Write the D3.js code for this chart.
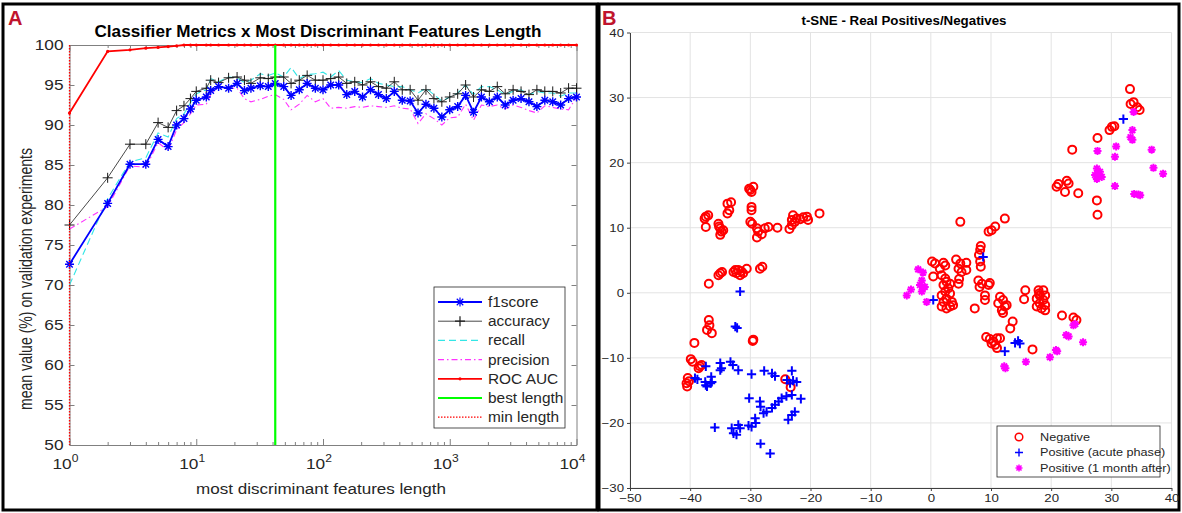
<!DOCTYPE html>
<html><head><meta charset="utf-8">
<script src="https://cdn.jsdelivr.net/npm/d3@7"></script>
<style>
body{margin:0;background:#fff;}
svg text{font-family:"Liberation Sans",Arial,sans-serif;fill:#262626;}
</style></head><body>
<svg id="fig" width="1182" height="513"></svg>
<script>
// ---- panel A data: mean metric value (%) per feature-list length ----
var featureLengths = [1,2,3,4,5,6,7,8,9,10,12,13,15,18,21,24,27,32,37,42,49,56,65,75,87,100,115,133,154,178,205,237,274,316,365,422,487,562,649,750,866,1000,1155,1334,1540,1778,2054,2371,2738,3162,3652,4217,4870,5623,6494,7499,8660,10000];
var f1score   = [72.6,80.2,85.1,85.1,88.2,87.3,90.0,90.8,92.0,93.1,93.5,94.3,94.8,94.6,95.2,94.3,94.6,94.9,94.8,95.2,94.8,93.7,94.4,95.2,94.6,94.4,95.0,95.0,93.8,94.2,93.5,94.4,93.8,93.3,94.2,93.1,93.0,91.5,92.6,92.1,91.0,91.9,92.3,93.7,91.6,93.5,92.9,93.5,92.5,93.1,93.3,92.9,92.3,93.1,92.9,92.5,93.3,93.5];
var accuracy  = [77.5,83.4,87.6,87.6,90.3,89.7,91.8,92.4,93.3,94.2,94.6,95.6,95.3,95.9,96.0,95.6,95.2,95.9,95.8,96.0,96.0,95.2,95.6,96.2,95.6,95.6,95.8,96.0,95.2,95.4,95.0,95.4,94.8,94.6,95.4,94.4,94.4,93.1,94.4,93.3,92.9,93.5,93.9,95.0,93.5,94.4,94.2,94.8,93.9,94.4,94.2,93.8,94.4,94.2,94.2,94.0,94.6,94.6];
var recall    = [70.0,80.8,85.4,85.9,89.0,88.5,90.8,91.4,92.8,93.9,94.4,95.8,95.4,96.0,95.9,95.3,95.6,96.4,96.2,96.5,96.0,97.2,95.8,96.3,96.4,96.6,96.0,96.8,95.6,95.4,95.3,95.8,95.2,95.0,94.8,94.8,94.4,94.0,94.6,93.8,93.0,93.5,94.0,95.0,93.8,94.8,94.8,94.4,93.8,94.2,94.4,93.8,94.2,94.0,94.0,93.6,94.0,94.0];
var precision = [77.0,79.8,84.9,84.7,87.8,86.8,89.4,90.3,91.4,92.5,92.6,93.8,94.8,94.6,94.6,93.3,92.9,93.2,93.6,93.8,93.2,91.9,92.6,93.7,92.9,93.3,92.1,92.2,92.1,92.3,92.2,92.4,92.3,92.2,92.4,92.1,92.0,90.2,91.4,90.8,90.0,90.9,91.0,92.6,90.6,92.5,92.3,92.5,92.0,92.5,92.2,91.8,91.5,92.4,92.2,92.0,91.9,93.5];
var rocAuc    = [91.5,99.2,99.4,99.6,99.7,99.8,99.9,100,100,100,100,100,100,100,100,100,100,100,100,100,100,100,100,100,100,100,100,100,100,100,100,100,100,100,100,100,100,100,100,100,100,100,100,100,100,100,100,100,100,100,100,100,100,100,100,100,100,100];
var bestLength = 42;
var minLength = 1;
var yTicksA = [50,55,60,65,70,75,80,85,90,95,100];
var decadesA = [1,10,100,1000,10000];

// ---- panel B data: t-SNE coordinates [x, y] ----
var negative = [
  [-30.0,15.8],[-29.5,16.3],[-29.8,15.5],[-30.2,16.0],
  [-33.8,13.7],[-33.5,12.7],[-33.8,12.2],[-33.2,13.9],
  [-37.4,11.7],[-37.4,10.1],[-37.6,11.4],[-37.0,11.9],
  [-35.3,10.6],[-35.0,9.9],[-34.8,9.4],[-35.0,8.9],[-34.5,9.6],[-35.2,10.2],
  [-29.8,13.2],[-29.8,12.7],[-30.0,10.9],[-29.7,10.6],
  [-28.9,9.9],[-28.7,9.4],[-28.9,8.5],[-28.1,9.0],
  [-27.0,10.1],[-27.6,9.9],[-25.5,10.0],[-23.5,9.8],[-23.1,10.4],
  [-22.9,11.9],[-22.3,11.4],[-21.7,11.3],[-21.2,11.6],[-20.4,11.2],[-20.6,11.7],[-22.6,10.9],[-23.1,11.2],
  [-18.5,12.2],
  [-36.9,1.4],[-35.3,2.7],[-35.0,3.0],[-34.7,3.2],
  [-32.5,3.5],[-32.3,3.0],[-31.7,2.7],[-32.0,3.5],[-31.2,3.0],[-30.6,3.7],[-32.8,3.2],[-31.5,3.3],
  [-28.4,3.7],[-28.0,4.0],
  [-36.9,-4.2],[-37.2,-5.7],[-36.4,-6.2],[-36.8,-5.0],
  [-39.3,-7.7],[-29.6,-7.4],[-29.5,-7.2],
  [-39.9,-10.2],[-39.6,-10.6],[-38.4,-11.3],[-38.1,-11.1],[-38.6,-11.6],
  [-40.4,-13.1],[-40.6,-13.9],[-40.5,-14.4],[-40.2,-13.6],
  [-24.2,-13.3],[-23.3,-14.5],
  [9.6,9.4],[10.1,9.6],[10.7,10.2],[12.3,11.4],[4.9,10.9],
  [8.3,7.2],[8.2,6.6],[8.0,5.8],[8.2,4.8],[8.3,4.0],
  [4.2,5.1],[4.9,4.5],[5.9,4.6],[4.6,3.7],[5.9,3.5],[5.1,3.2],
  [0.2,4.8],[0.7,4.5],[2.1,4.6],[1.5,3.7],[2.4,4.2],[0.4,2.5],
  [1.8,2.7],[2.4,2.2],[2.6,1.7],[3.2,1.4],[2.1,1.2],[2.9,0.7],[2.4,0.2],[3.2,-0.1],[1.8,-0.4],[2.6,-0.9],
  [2.1,-1.4],[3.5,-1.4],[1.8,-2.1],[3.2,-2.1],[2.6,-2.4],[3.7,-1.9],
  [4.7,2.1],[4.6,1.4],
  [7.9,1.9],[8.1,0.9],[8.5,1.4],[9.8,1.5],[9.6,1.2],[9.0,-0.4],[9.0,-1.1],[7.3,-2.4],
  [11.5,-0.6],[12.0,-1.1],[11.2,-1.6],[12.3,-2.1],[12.0,-3.1],[11.8,-2.7],[12.6,-1.9],
  [13.6,-4.4],[13.2,-5.5],[15.7,0.4],[15.5,-1.0],
  [17.9,0.4],[18.7,0.4],[18.1,-0.4],[19.0,-0.4],[17.6,-0.9],[18.7,-1.1],[18.1,-1.6],[19.0,-1.9],
  [17.6,-2.1],[18.4,-2.4],[19.0,-2.7],[18.0,-0.1],
  [21.8,-3.5],[23.7,-3.8],[24.2,-4.2],
  [9.2,-6.8],[9.8,-7.1],[10.4,-7.5],[11.0,-7.0],[11.5,-7.0],[10.7,-8.0],[11.0,-8.5],[10.1,-7.8],
  [16.9,-8.7],
  [33.1,31.3],[33.2,29.0],[33.7,29.3],[34.3,28.5],[34.7,28.1],
  [29.7,25.0],[30.1,25.5],[30.5,25.6],[27.7,23.8],[23.5,22.0],
  [21.2,16.7],[22.6,17.2],[22.3,15.5],[22.9,16.8],[24.5,15.3],[20.9,16.3],
  [27.6,14.2],[27.7,12.0]
];
var acutePhase = [
  [-31.7,0.2],[-32.5,-5.2],[-32.2,-5.4],
  [-37.4,-11.3],[-39.2,-13.1],[-38.8,-13.3],
  [-37.5,-13.7],[-37.4,-14.2],[-36.5,-12.9],[-36.4,-13.7],[-36.6,-13.9],[-37.2,-14.4],
  [-35.0,-10.8],[-34.8,-11.6],[-35.0,-11.9],[-33.3,-10.6],[-32.9,-11.1],
  [-32.0,-11.9],[-29.8,-12.5],[-27.7,-12.0],[-26.4,-12.4],[-25.9,-12.8],
  [-23.1,-12.0],[-23.9,-13.4],[-22.9,-13.5],[-22.3,-13.7],[-23.4,-13.9],
  [-30.2,-16.2],[-28.4,-16.7],[-28.3,-17.5],[-27.8,-18.5],[-27.3,-18.3],
  [-26.4,-17.7],[-25.9,-17.2],[-25.3,-16.7],[-24.8,-16.2],[-24.0,-15.9],[-23.1,-15.7],[-21.6,-16.3],
  [-22.6,-18.3],[-23.1,-18.8],[-23.7,-19.5],
  [-35.9,-20.7],[-33.1,-20.8],[-32.8,-21.6],[-32.0,-20.3],[-31.7,-20.8],[-32.3,-21.8],
  [-30.3,-20.4],[-29.8,-20.6],[-29.1,-20.0],[-29.2,-19.3],
  [-28.3,-23.2],[-26.7,-24.7],
  [8.7,5.5],[0.4,-1.1],[14.0,-7.7],[14.5,-7.4],[14.8,-7.8],[12.3,-9.0],
  [32.0,26.7]
];
var oneMonthAfter = [
  [-2.1,3.6],[-1.3,3.1],[-1.5,1.9],[-1.8,1.2],[-1.0,0.9],[-1.5,0.2],[-3.3,0.5],[-4.0,-0.4],[-0.7,-1.4],
  [12.2,-11.3],[12.4,-11.6],[15.8,-10.6],[19.8,-9.9],[20.8,-8.8],[21.0,-9.0],[22.5,-6.5],[22.9,-6.7],
  [23.7,-5.0],[24.0,-4.8],[25.3,-7.6],
  [33.7,27.8],[33.5,25.0],[33.5,23.5],[33.2,23.9],[30.8,22.5],[30.6,20.9],[27.7,21.8],[36.7,22.0],
  [27.6,19.1],[28.1,18.6],[27.3,18.1],[28.4,17.8],[27.6,17.5],[27.8,18.3],[30.6,16.4],
  [37.0,19.2],[38.6,18.3],[33.8,15.2],[34.5,15.1],[34.8,15.0]
];
var xTicksB = [-50,-40,-30,-20,-10,0,10,20,30,40];
var yTicksB = [-30,-20,-10,0,10,20,30,40];

var svg = d3.select("#fig");
var STRETCH = 1.15;

// the source figure is a bit wider than tall, so horizontal text gets stretched
function stretch(sel, k) {
  sel.each(function() {
    var w = this.getComputedTextLength();
    d3.select(this).attr("textLength", w * (k || STRETCH)).attr("lengthAdjust", "spacingAndGlyphs");
  });
}

function markerPath(type, r) {
  if (type == "+") return "M0," + (-r) + "V" + r + "M" + (-r) + ",0H" + r;
  if (type == "*") {
    var d = r * 0.72;
    return "M0," + (-r) + "V" + r + "M" + (-r) + ",0H" + r +
      "M" + (-d) + "," + (-d) + "L" + d + "," + d + "M" + (-d) + "," + d + "L" + d + "," + (-d);
  }
  return "";
}

// ---------------- frame ----------------
svg.append("rect").attr("x", 0).attr("y", 0).attr("width", 1182).attr("height", 513).attr("fill", "#fff");
var frame = svg.append("g").attr("stroke", "#000").attr("stroke-width", 3).attr("fill", "none");
frame.append("rect").attr("x", 3).attr("y", 4).attr("width", 594).attr("height", 506);
frame.append("rect").attr("x", 599).attr("y", 4).attr("width", 580).attr("height", 506);

svg.append("text").attr("x", 8).attr("y", 25).text("A")
  .style("font-size", "20px").style("font-weight", "bold").style("fill", "#c0142d");
svg.append("text").attr("x", 602).attr("y", 25).text("B")
  .style("font-size", "20px").style("font-weight", "bold").style("fill", "#c0142d");

// ---------------- panel A ----------------
var A = {left: 69.5, right: 576.5, top: 45, bottom: 445};
var xA = d3.scaleLog().domain([1, 10000]).range([A.left, A.right]);
var yA = d3.scaleLinear().domain([50, 100]).range([A.bottom, A.top]);
var gA = svg.append("g");

var minorA = [];
decadesA.slice(0, -1).forEach(function(d) { for (var m = 2; m < 10; m++) minorA.push(d * m); });

function styleAxis(g) {
  g.selectAll("path,line").attr("stroke", "#808080");
  g.selectAll("text").style("font-size", "15px").style("fill", "#262626").style("font-family", null);
}

gA.append("g").attr("transform", "translate(0," + A.bottom + ")")
  .call(d3.axisBottom(xA).tickValues(decadesA).tickSize(-6).tickSizeOuter(0).tickFormat(""))
  .call(styleAxis);
gA.append("g").attr("transform", "translate(0," + A.bottom + ")")
  .call(d3.axisBottom(xA).tickValues(minorA).tickSize(-3).tickSizeOuter(0).tickFormat(""))
  .call(styleAxis);
gA.append("g").attr("transform", "translate(0," + A.top + ")")
  .call(d3.axisTop(xA).tickValues(decadesA).tickSize(-6).tickSizeOuter(0).tickFormat(""))
  .call(styleAxis);
gA.append("g").attr("transform", "translate(0," + A.top + ")")
  .call(d3.axisTop(xA).tickValues(minorA).tickSize(-3).tickSizeOuter(0).tickFormat(""))
  .call(styleAxis);
var yAxisA = gA.append("g").attr("transform", "translate(" + A.left + ",0)")
  .call(d3.axisLeft(yA).tickValues(yTicksA).tickSize(-5).tickSizeOuter(0).tickPadding(6))
  .call(styleAxis);
stretch(yAxisA.selectAll("text"));
gA.append("g").attr("transform", "translate(" + A.right + ",0)")
  .call(d3.axisRight(yA).tickValues(yTicksA).tickSize(-5).tickSizeOuter(0).tickFormat(""))
  .call(styleAxis);

// decade labels 10^n
var decLab = gA.append("g").selectAll("text").data(decadesA).enter().append("text")
  .attr("x", function(d) { return xA(d) - 4; })
  .attr("y", 469)
  .attr("text-anchor", "middle")
  .style("font-size", "15px");
decLab.append("tspan").text("10");
decLab.append("tspan").attr("dy", -7).style("font-size", "10.5px")
  .text(function(d) { return Math.round(Math.log10(d)); });
stretch(decLab);

// series
var lineA = function(vals) {
  return d3.line().x(function(d, i) { return xA(featureLengths[i]); }).y(function(d) { return yA(d); })(vals);
};
gA.append("path").attr("d", lineA(precision)).attr("fill", "none")
  .attr("stroke", "#ff33ff").attr("stroke-width", 1.1).attr("stroke-dasharray", "6,3,1.5,3");
gA.append("path").attr("d", lineA(recall)).attr("fill", "none")
  .attr("stroke", "#33e6e6").attr("stroke-width", 1.1).attr("stroke-dasharray", "7,4");
gA.append("path").attr("d", lineA(accuracy)).attr("fill", "none")
  .attr("stroke", "#1a1a1a").attr("stroke-width", 0.8);
gA.append("g").selectAll("path").data(accuracy).enter().append("path")
  .attr("transform", function(d, i) { return "translate(" + xA(featureLengths[i]) + "," + yA(d) + ")"; })
  .attr("d", markerPath("+", 5)).attr("stroke", "#1a1a1a").attr("stroke-width", 1);
gA.append("path").attr("d", lineA(f1score)).attr("fill", "none")
  .attr("stroke", "#0000ff").attr("stroke-width", 1.8);
gA.append("g").selectAll("path").data(f1score).enter().append("path")
  .attr("transform", function(d, i) { return "translate(" + xA(featureLengths[i]) + "," + yA(d) + ")"; })
  .attr("d", markerPath("*", 4.5)).attr("stroke", "#0000ff").attr("stroke-width", 1.4);
gA.append("path").attr("d", lineA(rocAuc)).attr("fill", "none")
  .attr("stroke", "#ff0000").attr("stroke-width", 1.8);
gA.append("g").selectAll("circle").data(rocAuc).enter().append("circle")
  .attr("cx", function(d, i) { return xA(featureLengths[i]); }).attr("cy", function(d) { return yA(d); })
  .attr("r", 1.6).attr("fill", "#ff0000");
gA.append("line").attr("x1", xA(bestLength)).attr("x2", xA(bestLength)).attr("y1", A.top).attr("y2", A.bottom)
  .attr("stroke", "#00ff00").attr("stroke-width", 2.2);
gA.append("line").attr("x1", xA(minLength)).attr("x2", xA(minLength)).attr("y1", A.top).attr("y2", A.bottom)
  .attr("stroke", "#ff0000").attr("stroke-width", 1.3).attr("stroke-dasharray", "1.5,1.5");

// titles and labels
gA.append("text").attr("x", 318).attr("y", 37).attr("text-anchor", "middle")
  .style("font-size", "16px").style("font-weight", "bold").style("fill", "#000")
  .attr("textLength", 447).attr("lengthAdjust", "spacingAndGlyphs")
  .text("Classifier Metrics x Most Discriminant Features Length");
gA.append("text").attr("x", 321).attr("y", 494).attr("text-anchor", "middle")
  .style("font-size", "15.5px").attr("textLength", 250).attr("lengthAdjust", "spacingAndGlyphs")
  .text("most discriminant features length");
gA.append("text").attr("transform", "translate(32,279) scale(1.12,1) rotate(-90)").attr("text-anchor", "middle")
  .style("font-size", "16px").attr("textLength", 262).attr("lengthAdjust", "spacingAndGlyphs")
  .text("mean value (%) on validation experiments");

// legend A
var legA = [
  {name: "f1score", color: "#0000ff", width: 1.8, dash: null, mark: "*"},
  {name: "accuracy", color: "#1a1a1a", width: 0.8, dash: null, mark: "+"},
  {name: "recall", color: "#33e6e6", width: 1.1, dash: "7,4", mark: null},
  {name: "precision", color: "#ff33ff", width: 1.1, dash: "6,3,1.5,3", mark: null},
  {name: "ROC AUC", color: "#ff0000", width: 1.8, dash: null, mark: "."},
  {name: "best length", color: "#00ff00", width: 2.2, dash: null, mark: null},
  {name: "min length", color: "#ff0000", width: 1.3, dash: "1.5,1.5", mark: null}
];
var gLegA = gA.append("g");
gLegA.append("rect").attr("x", 434).attr("y", 287).attr("width", 131).attr("height", 141)
  .attr("fill", "#fff").attr("stroke", "#262626").attr("stroke-width", 0.8);
var itemA = gLegA.selectAll("g.item").data(legA).enter().append("g").attr("class", "item")
  .attr("transform", function(d, i) { return "translate(0," + (302 + i * 19.2) + ")"; });
itemA.append("line").attr("x1", 438).attr("x2", 482)
  .attr("stroke", function(d) { return d.color; }).attr("stroke-width", function(d) { return d.width; })
  .attr("stroke-dasharray", function(d) { return d.dash; });
itemA.filter(function(d) { return d.mark == "*" || d.mark == "+"; }).append("path")
  .attr("transform", "translate(460,0)")
  .attr("d", function(d) { return markerPath(d.mark, d.mark == "*" ? 4.5 : 5); })
  .attr("stroke", function(d) { return d.color; }).attr("stroke-width", 1.2);
itemA.filter(function(d) { return d.mark == "."; }).append("circle")
  .attr("cx", 460).attr("r", 1.6).attr("fill", "#ff0000");
var legTextA = itemA.append("text").attr("x", 488).attr("dy", "0.35em").style("font-size", "14px")
  .text(function(d) { return d.name; });
stretch(legTextA, 1.1);

// ---------------- panel B ----------------
var B = {left: 630, right: 1171.5, top: 32.5, bottom: 488};
var xB = d3.scaleLinear().domain([-50, 40]).range([B.left, B.right]);
var yB = d3.scaleLinear().domain([-30, 40]).range([B.bottom, B.top]);
var gB = svg.append("g");

gB.append("g").selectAll("line.gx").data(xTicksB).enter().append("line")
  .attr("x1", function(d) { return xB(d); }).attr("x2", function(d) { return xB(d); })
  .attr("y1", B.top).attr("y2", B.bottom).attr("stroke", "#e3e3e3").attr("stroke-width", 1);
gB.append("g").selectAll("line.gy").data(yTicksB).enter().append("line")
  .attr("y1", function(d) { return yB(d); }).attr("y2", function(d) { return yB(d); })
  .attr("x1", B.left).attr("x2", B.right).attr("stroke", "#e3e3e3").attr("stroke-width", 1);

var xAxisB = gB.append("g").attr("transform", "translate(0," + B.bottom + ")")
  .call(d3.axisBottom(xB).tickValues(xTicksB).tickSize(3).tickSizeOuter(0).tickPadding(3));
var yAxisB = gB.append("g").attr("transform", "translate(" + B.left + ",0)")
  .call(d3.axisLeft(yB).tickValues(yTicksB).tickSize(3).tickSizeOuter(0).tickPadding(3));
[xAxisB, yAxisB].forEach(function(ax) {
  ax.selectAll("path,line").attr("stroke", "#404040");
  ax.selectAll("text").style("font-size", "11.5px").style("fill", "#262626").style("font-family", null);
  stretch(ax.selectAll("text"));
});

gB.append("text").attr("x", 904).attr("y", 25).attr("text-anchor", "middle")
  .style("font-size", "12.5px").style("font-weight", "bold").style("fill", "#000")
  .attr("textLength", 205).attr("lengthAdjust", "spacingAndGlyphs")
  .text("t-SNE - Real Positives/Negatives");

gB.append("g").selectAll("circle").data(negative).enter().append("circle")
  .attr("cx", function(d) { return xB(d[0]); }).attr("cy", function(d) { return yB(d[1]); })
  .attr("r", 4).attr("fill", "none").attr("stroke", "#ff0000").attr("stroke-width", 2);
gB.append("g").selectAll("path").data(acutePhase).enter().append("path")
  .attr("transform", function(d) { return "translate(" + xB(d[0]) + "," + yB(d[1]) + ")"; })
  .attr("d", markerPath("+", 4.6)).attr("stroke", "#0000ff").attr("stroke-width", 2);
gB.append("g").selectAll("path").data(oneMonthAfter).enter().append("path")
  .attr("transform", function(d) { return "translate(" + xB(d[0]) + "," + yB(d[1]) + ")"; })
  .attr("d", markerPath("*", 4)).attr("stroke", "#ff00ff").attr("stroke-width", 2);

// legend B
var legB = [
  {name: "Negative", kind: "o"},
  {name: "Positive (acute phase)", kind: "+"},
  {name: "Positive (1 month after)", kind: "*"}
];
var gLegB = gB.append("g");
gLegB.append("rect").attr("x", 997).attr("y", 426).attr("width", 163).attr("height", 51)
  .attr("fill", "#fff").attr("stroke", "#262626").attr("stroke-width", 0.8);
var itemB = gLegB.selectAll("g.item").data(legB).enter().append("g").attr("class", "item")
  .attr("transform", function(d, i) { return "translate(1019," + (437 + i * 15.5) + ")"; });
itemB.filter(function(d) { return d.kind == "o"; }).append("circle")
  .attr("r", 3.8).attr("fill", "none").attr("stroke", "#ff0000").attr("stroke-width", 1.5);
itemB.filter(function(d) { return d.kind == "+"; }).append("path")
  .attr("d", markerPath("+", 4)).attr("stroke", "#0000ff").attr("stroke-width", 1.4);
itemB.filter(function(d) { return d.kind == "*"; }).append("path")
  .attr("d", markerPath("*", 3.5)).attr("stroke", "#ff00ff").attr("stroke-width", 1.5);
var legTextB = itemB.append("text").attr("x", 21).attr("dy", "0.35em").style("font-size", "11px")
  .text(function(d) { return d.name; });
stretch(legTextB);
</script>
</body></html>
